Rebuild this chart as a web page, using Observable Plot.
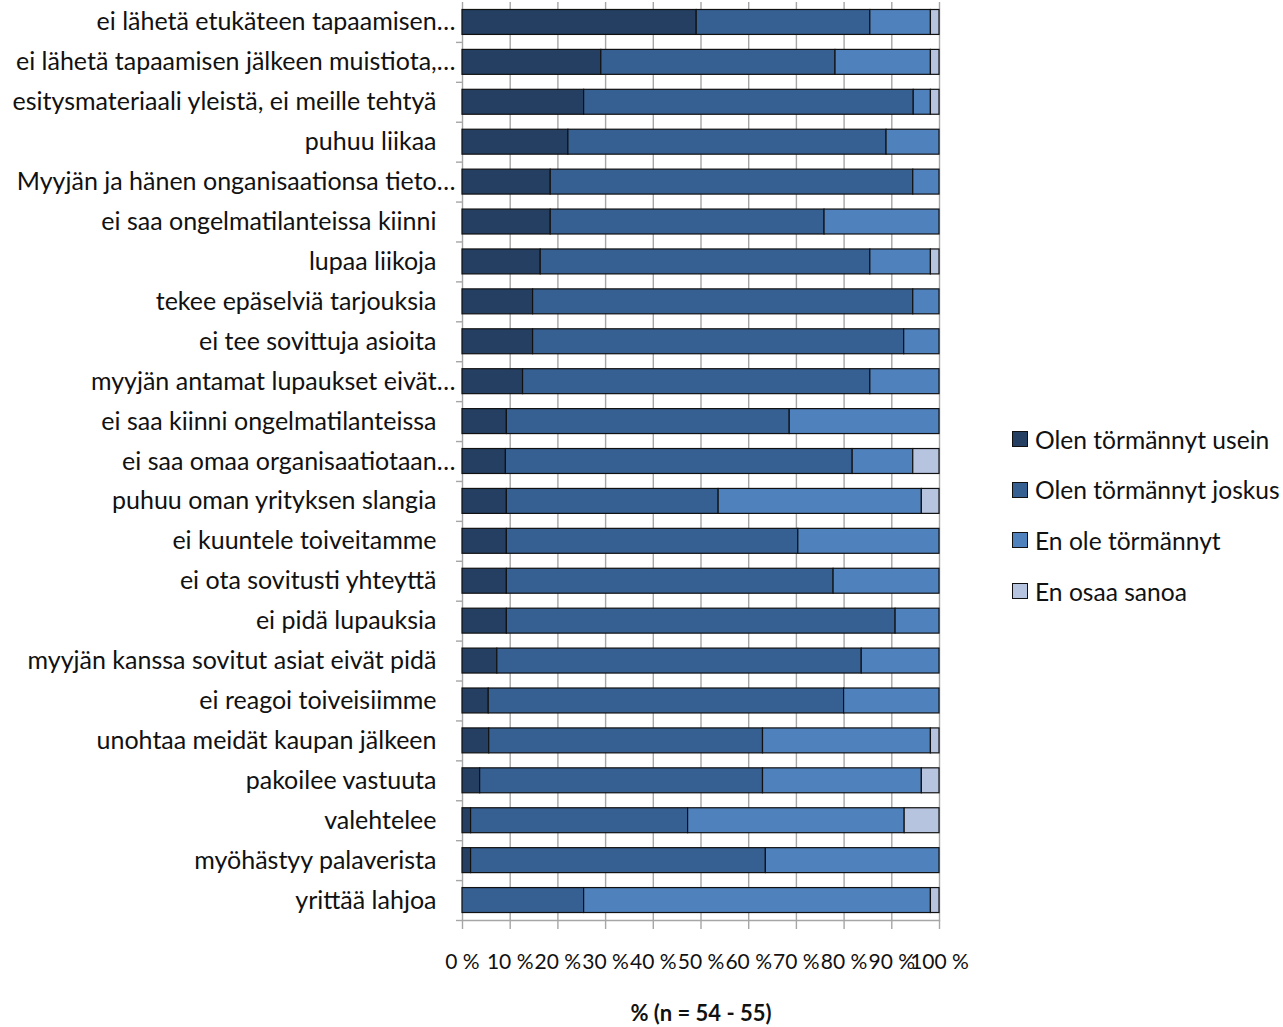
<!DOCTYPE html>
<html>
<head>
<meta charset="utf-8">
<script src="https://cdn.jsdelivr.net/npm/d3@7"></script>
<script src="https://cdn.jsdelivr.net/npm/@observablehq/plot@0.6"></script>
<style>
  html, body { margin: 0; padding: 0; background: #fff; }
  body { width: 1283px; height: 1027px; position: relative; overflow: hidden; font-family: Lato, "Open Sans", sans-serif; }
  #chart { position: absolute; left: 0; top: 0; }
  #legend { position: absolute; left: 1012px; top: 426px; font-family: Lato, sans-serif; font-size: 24.6px; color: #111; }
  #legend .item { display: flex; align-items: center; height: 26px; margin-bottom: 24.7px; white-space: nowrap; }
  #legend .sw { width: 14px; height: 14px; border: 1px solid #111; margin-right: 7px; flex: none; }
</style>
</head>
<body>
<div id="chart"></div>
<div id="legend"></div>
<script>
// Survey items (top to bottom)
const categories = [
  "ei lähetä etukäteen tapaamisen…",
  "ei lähetä tapaamisen jälkeen muistiota,…",
  "esitysmateriaali yleistä, ei meille tehtyä",
  "puhuu liikaa",
  "Myyjän ja hänen onganisaationsa tieto…",
  "ei saa ongelmatilanteissa kiinni",
  "lupaa liikoja",
  "tekee epäselviä tarjouksia",
  "ei tee sovittuja asioita",
  "myyjän antamat lupaukset eivät…",
  "ei saa kiinni ongelmatilanteissa",
  "ei saa omaa organisaatiotaan…",
  "puhuu oman yrityksen slangia",
  "ei kuuntele toiveitamme",
  "ei ota sovitusti yhteyttä",
  "ei pidä lupauksia",
  "myyjän kanssa sovitut asiat eivät pidä",
  "ei reagoi toiveisiimme",
  "unohtaa meidät kaupan jälkeen",
  "pakoilee vastuuta",
  "valehtelee",
  "myöhästyy palaverista",
  "yrittää lahjoa"
];

const seriesNames = ["Olen törmännyt usein", "Olen törmännyt joskus", "En ole törmännyt", "En osaa sanoa"];
const seriesColors = ["#243f62", "#365f92", "#4f81bd", "#b7c4df"];

// Shares of respondents, %
const usein  = [49.1, 29.1, 25.5, 22.2, 18.5, 18.5, 16.4, 14.8, 14.8, 12.7, 9.3, 9.1, 9.3, 9.3, 9.3, 9.3, 7.3, 5.5, 5.6, 3.7, 1.8, 1.8, 0];
const joskus = [36.4, 49.1, 69.1, 66.7, 76.0, 57.4, 69.1, 79.7, 77.8, 72.8, 59.3, 72.7, 44.4, 61.1, 68.5, 81.5, 76.4, 74.5, 57.4, 59.3, 45.5, 61.8, 25.5];
const eiOle  = [12.7, 20.0, 3.6, 11.1, 5.5, 24.1, 12.7, 5.5, 7.4, 14.5, 31.4, 12.7, 42.6, 29.6, 22.2, 9.2, 16.3, 20.0, 35.2, 33.3, 45.4, 36.4, 72.7];
const eiOsaa = [1.8, 1.8, 1.8, 0, 0, 0, 1.8, 0, 0, 0, 0, 5.5, 3.7, 0, 0, 0, 0, 0, 1.8, 3.7, 7.3, 0, 1.8];

const xTicks = [0, 10, 20, 30, 40, 50, 60, 70, 80, 90, 100];
const xLabel = "% (n = 54 - 55)";

const seriesValues = [usein, joskus, eiOle, eiOsaa];
const rows = [];
categories.forEach((c, i) => {
  seriesNames.forEach((s, j) => {
    const v = seriesValues[j][i];
    if (v > 0) rows.push({category: c, series: s, value: v});
  });
});

const width = 1283, height = 1027;
const marginLeft = 462, marginRight = 344, marginTop = 2, marginBottom = 107;
const step = (height - marginTop - marginBottom) / categories.length;
const truncated = categories.filter(c => c.endsWith("…"));
const full = categories.filter(c => !c.endsWith("…"));
const grid = "#a6a6a6";

const chart = Plot.plot({
  width, height, marginLeft, marginRight, marginTop, marginBottom,
  style: {fontFamily: "Lato, sans-serif", background: "#fff", color: "#111"},
  x: {domain: [0, 100], axis: null},
  y: {domain: categories, paddingInner: 0.375, paddingOuter: 0.1875, round: false, axis: null},
  color: {domain: seriesNames, range: seriesColors},
  marks: [
    Plot.gridX({ticks: xTicks.slice(1), stroke: grid, strokeOpacity: 1, strokeWidth: 1.4}),
    Plot.ruleX([0], {stroke: grid, strokeWidth: 1.4}),
    Plot.frame({anchor: "bottom", stroke: grid, strokeWidth: 1.4}),
    Plot.axisX({ticks: xTicks, tickSize: 9, tickPadding: 25, stroke: grid, strokeWidth: 1.4,
      tickFormat: d => d + " %", fontSize: 21, fill: "#111", label: null}),
    Plot.axisY({tickSize: 6, text: null, dy: step / 2, stroke: grid, strokeWidth: 1.4, label: null}),
    Plot.barX(rows, {x: "value", y: "category", fill: "series", order: seriesNames,
      stroke: "#111", strokeWidth: 1.2}),
    Plot.text(full, {y: d => d, text: d => d, frameAnchor: "left", textAnchor: "end",
      dx: -26, fontSize: 25, fill: "#111"}),
    Plot.text(truncated, {y: d => d, text: d => d, frameAnchor: "left", textAnchor: "end",
      dx: -7, fontSize: 25, fill: "#111"}),
    Plot.text([xLabel], {text: d => d, frameAnchor: "bottom", dy: 100, fontSize: 22,
      fontWeight: "bold", fill: "#111"})
  ]
});
document.getElementById("chart").appendChild(chart);

const legend = d3.select("#legend");
seriesNames.forEach((s, j) => {
  const item = legend.append("div").attr("class", "item");
  item.append("div").attr("class", "sw").style("background", seriesColors[j]);
  item.append("span").text(s);
});
</script>
</body>
</html>
